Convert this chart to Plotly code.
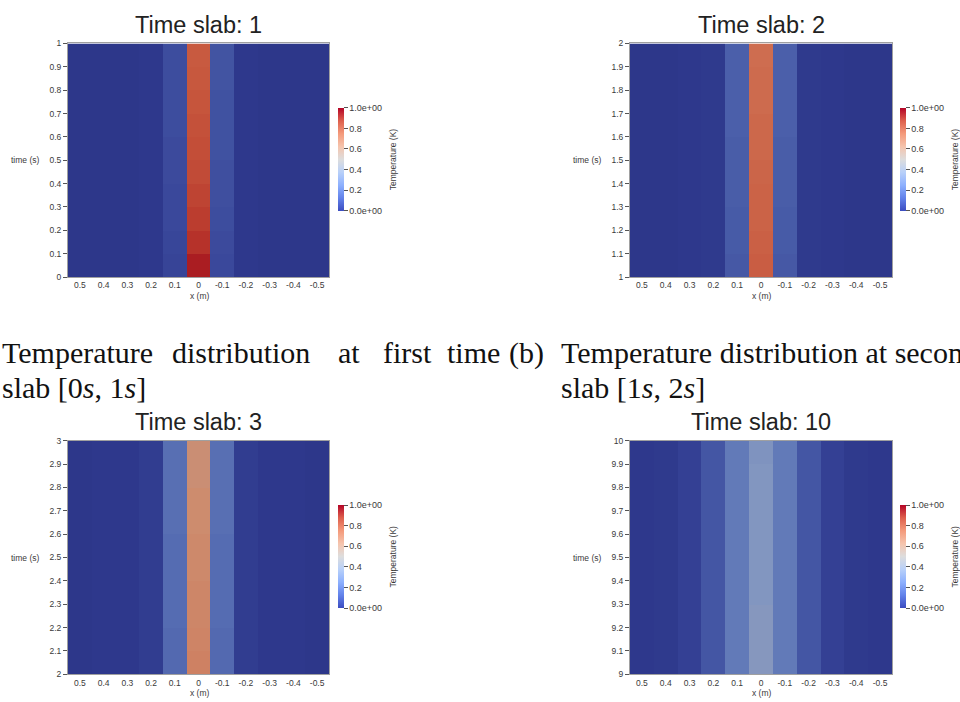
import plotly.graph_objects as go

# ---------------- data ----------------
x_centers = [0.5, 0.4, 0.3, 0.2, 0.1, 0.0, -0.1, -0.2, -0.3, -0.4, -0.5]
x_ticktext = ["0.5", "0.4", "0.3", "0.2", "0.1", "0", "-0.1", "-0.2", "-0.3", "-0.4", "-0.5"]

slab_titles = ["Time slab: 1", "Time slab: 2", "Time slab: 3", "Time slab: 10"]
slab_start = [0, 1, 2, 9]
t_offsets = [0.05, 0.15, 0.25, 0.35, 0.45, 0.55, 0.65, 0.75, 0.85, 0.95]
y_ticks_1 = ["0", "0.1", "0.2", "0.3", "0.4", "0.5", "0.6", "0.7", "0.8", "0.9", "1"]
y_ticks_2 = ["1", "1.1", "1.2", "1.3", "1.4", "1.5", "1.6", "1.7", "1.8", "1.9", "2"]
y_ticks_3 = ["2", "2.1", "2.2", "2.3", "2.4", "2.5", "2.6", "2.7", "2.8", "2.9", "3"]
y_ticks_10 = ["9", "9.1", "9.2", "9.3", "9.4", "9.5", "9.6", "9.7", "9.8", "9.9", "10"]

# temperature in outer columns (constant over each slab), x = 0.5 ... -0.5
outer_1 = [0.00, 0.00, 0.00, 0.01, 0.11, 0.85, 0.13, 0.01, 0.00, 0.00, 0.00]
outer_2 = [0.00, 0.00, 0.01, 0.02, 0.19, 0.73, 0.19, 0.02, 0.01, 0.00, 0.00]
outer_3 = [0.00, 0.01, 0.01, 0.04, 0.25, 0.61, 0.25, 0.04, 0.01, 0.01, 0.00]
outer_10 = [0.01, 0.02, 0.06, 0.16, 0.30, 0.40, 0.30, 0.16, 0.06, 0.02, 0.01]

# centre column (x=0) and its neighbours (x=+0.1, x=-0.1), rows from bottom to top
centre_1 = [0.97, 0.90, 0.87, 0.85, 0.83, 0.82, 0.81, 0.80, 0.79, 0.78]
left_1 = [0.08, 0.09, 0.10, 0.10, 0.11, 0.11, 0.12, 0.12, 0.12, 0.12]
right_1 = [0.10, 0.11, 0.12, 0.13, 0.13, 0.14, 0.14, 0.14, 0.15, 0.15]
centre_2 = [0.77, 0.76, 0.75, 0.75, 0.74, 0.73, 0.73, 0.72, 0.72, 0.71]
left_2 = [0.17, 0.18, 0.18, 0.19, 0.19, 0.19, 0.20, 0.20, 0.20, 0.20]
right_2 = [0.17, 0.18, 0.18, 0.19, 0.19, 0.19, 0.20, 0.20, 0.20, 0.20]
centre_3 = [0.64, 0.63, 0.62, 0.62, 0.61, 0.61, 0.60, 0.60, 0.59, 0.59]
left_3 = [0.24, 0.24, 0.25, 0.25, 0.25, 0.25, 0.26, 0.26, 0.26, 0.26]
right_3 = [0.24, 0.24, 0.25, 0.25, 0.25, 0.25, 0.26, 0.26, 0.26, 0.26]
centre_10 = [0.41, 0.41, 0.41, 0.40, 0.40, 0.40, 0.40, 0.40, 0.40, 0.39]
left_10 = [0.30, 0.30, 0.30, 0.30, 0.30, 0.30, 0.30, 0.30, 0.30, 0.30]
right_10 = [0.30, 0.30, 0.30, 0.30, 0.30, 0.30, 0.30, 0.30, 0.30, 0.30]

outers = [outer_1, outer_2, outer_3, outer_10]
centres = [centre_1, centre_2, centre_3, centre_10]
lefts = [left_1, left_2, left_3, left_10]
rights = [right_1, right_2, right_3, right_10]
y_tick_sets = [y_ticks_1, y_ticks_2, y_ticks_3, y_ticks_10]

cb_tickvals = [0, 0.2, 0.4, 0.6, 0.8, 1.0]
cb_ticktext = ["0.0e+00", "0.2", "0.4", "0.6", "0.8", "1.0e+00"]

# ---------------- styles ----------------
W, H = 960, 702
# ParaView "Cool to Warm" for the colour legend
cool_warm = [
    [0.0, "rgb(59,76,192)"], [0.125, "rgb(98,130,234)"], [0.25, "rgb(141,176,254)"],
    [0.375, "rgb(184,208,249)"], [0.5, "rgb(221,221,221)"], [0.625, "rgb(245,196,173)"],
    [0.75, "rgb(244,154,123)"], [0.875, "rgb(222,96,77)"], [1.0, "rgb(180,4,38)"],
]
# same map as rendered (shaded) in the view
shaded = [
    [0.00, "rgb(45,55,138)"], [0.05, "rgb(50,62,146)"], [0.10, "rgb(58,72,155)"],
    [0.15, "rgb(66,84,162)"], [0.20, "rgb(75,95,170)"], [0.25, "rgb(85,108,178)"],
    [0.30, "rgb(98,122,184)"], [0.40, "rgb(130,150,192)"], [0.50, "rgb(175,160,170)"],
    [0.60, "rgb(205,140,110)"], [0.70, "rgb(207,112,82)"], [0.80, "rgb(198,85,60)"],
    [0.90, "rgb(182,50,42)"], [1.00, "rgb(165,20,30)"],
]

# plot boxes in pixels: (left, right, top, bottom)
boxes = [(68, 329, 39, 276), (630, 892, 39, 276), (68, 329, 442, 679), (630, 892, 442, 679)]
cb_left = [338, 900, 338, 900]
cb_top = [105, 105, 508, 508]
cb_len = 103

sans = "Liberation Sans, Arial, sans-serif"
tick_font = dict(family=sans, size=8.5, color="#3a3a3a")

fig = go.Figure()
annotations = []

for i in range(4):
    xa = "x" if i == 0 else f"x{i+1}"
    ya = "y" if i == 0 else f"y{i+1}"
    t0 = slab_start[i]
    yc = [t0 + o for o in t_offsets]
    z = []
    for r in range(10):
        row = list(outers[i])
        row[4] = lefts[i][r]
        row[5] = centres[i][r]
        row[6] = rights[i][r]
        z.append(row)
    fig.add_trace(go.Heatmap(
        x=x_centers, y=yc, z=z, zmin=0, zmax=1, colorscale=shaded,
        showscale=False, xaxis=xa, yaxis=ya, hoverinfo="skip",
    ))
    # colour legend
    fig.add_trace(go.Scatter(
        x=[None], y=[None], mode="markers", xaxis=xa, yaxis=ya, showlegend=False,
        hoverinfo="skip",
        marker=dict(color=[0.5], cmin=0, cmax=1, colorscale=cool_warm, showscale=True,
                    colorbar=dict(
                        x=cb_left[i] / W, xanchor="left", xpad=0,
                        y=1 - (cb_top[i] + cb_len / 2) / H, yanchor="middle", ypad=0,
                        len=cb_len, lenmode="pixels", thickness=6, thicknessmode="pixels",
                        outlinewidth=0, ticks="outside", ticklen=4, tickcolor="#555",
                        tickvals=cb_tickvals, ticktext=cb_ticktext,
                        tickfont=dict(family=sans, size=9, color="#3a3a3a"),
                    )),
    ))

    l, r_, t, b = boxes[i]
    ax_common = dict(showline=True, mirror=True, linecolor="#a0a0a0", linewidth=1,
                     showgrid=False, zeroline=False, tickcolor="#555",
                     tickfont=tick_font, fixedrange=True)
    fig.layout[("xaxis" if i == 0 else f"xaxis{i+1}")] = dict(
        domain=[l / W, r_ / W], range=[0.55, -0.55], anchor=ya, ticks="",
        ticklabelstandoff=0,
        tickmode="array", tickvals=x_centers, ticktext=x_ticktext, **ax_common)
    fig.layout[("yaxis" if i == 0 else f"yaxis{i+1}")] = dict(
        domain=[1 - b / H, 1 - t / H], range=[t0, t0 + 1], anchor=xa, ticks="outside",
        tickmode="array", tickvals=[t0 + k / 10 for k in range(11)], ticktext=y_tick_sets[i],
        ticklen=4, **ax_common)

    cx = (l + r_) / 2
    annotations.append(dict(text=slab_titles[i], x=cx / W, y=1 - (t - 19) / H, xref="paper", yref="paper",
                            showarrow=False, xanchor="center", yanchor="middle",
                            font=dict(family=sans, size=23.5, color="#222")))
    annotations.append(dict(text="x (m)", x=(cx + 1) / W, y=1 - (b + 19) / H, xref="paper", yref="paper",
                            showarrow=False, xanchor="center", yanchor="middle", font=tick_font))
    annotations.append(dict(text="time (s)", x=(l - 26) / W, y=1 - ((t + b) / 2) / H, xref="paper", yref="paper",
                            showarrow=False, xanchor="right", yanchor="middle", font=tick_font))
    annotations.append(dict(text="Temperature (K)", x=(cb_left[i] + 55) / W, y=1 - (cb_top[i] + cb_len / 2) / H,
                            xref="paper", yref="paper", showarrow=False, textangle=-90,
                            xanchor="center", yanchor="middle",
                            font=dict(family=sans, size=8.5, color="#3a3a3a")))

# captions
cap_font = dict(family="Liberation Serif, Times New Roman, serif", size=30, color="#111")
cap_words = [("Temperature", 0), ("distribution", 170), ("at", 336), ("first", 381), ("time", 445),
             ("(b)", 507), ("Temperature distribution at second time", 559)]
for word, px in cap_words:
    annotations.append(dict(text=word, x=px / W, y=1 - 353 / H, xref="paper", yref="paper",
                            showarrow=False, xanchor="left", yanchor="middle", font=cap_font))
annotations.append(dict(text="slab [0<i>s</i>, 1<i>s</i>]", x=0, y=1 - 388 / H, xref="paper", yref="paper",
                        showarrow=False, xanchor="left", yanchor="middle", font=cap_font))
annotations.append(dict(text="slab [1<i>s</i>, 2<i>s</i>]", x=559 / W, y=1 - 388 / H, xref="paper", yref="paper",
                        showarrow=False, xanchor="left", yanchor="middle", font=cap_font))

fig.update_layout(width=W, height=H, margin=dict(l=0, r=0, t=0, b=0),
                  paper_bgcolor="white", plot_bgcolor="white", showlegend=False,
                  annotations=annotations)
fig.write_html("out.html", config={"displayModeBar": False})
